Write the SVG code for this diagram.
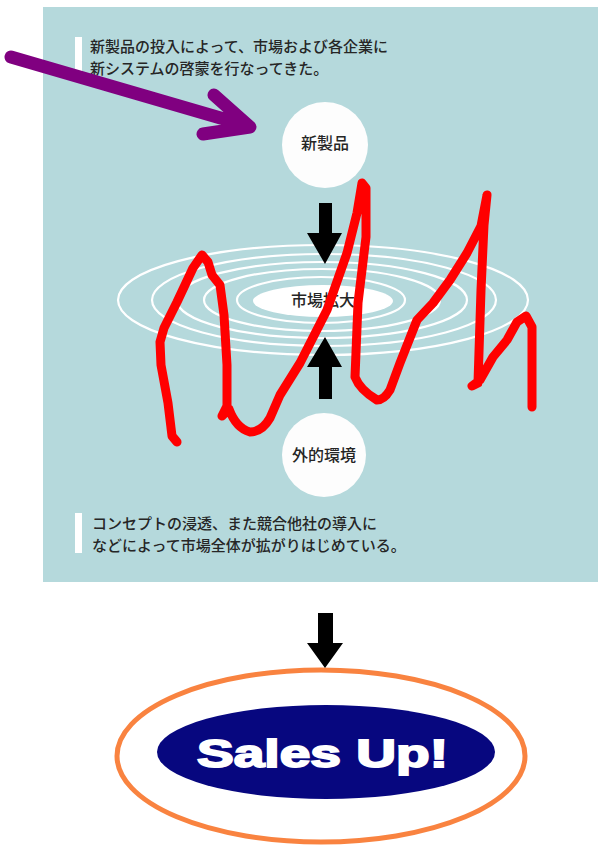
<svg xmlns="http://www.w3.org/2000/svg" width="598" height="847" viewBox="0 0 598 847">
<style>
.jp{font-family:"Noto Sans CJK JP","Noto Sans CJK SC",sans-serif;fill:#262626;font-weight:500}
.body{font-size:15px}
.node{font-size:16px;text-anchor:middle}
.ring{fill:none;stroke:#ffffff;stroke-width:2.2}
.blk{fill:#000000}
.bubble{fill:#fdfdfd}
</style>
<rect x="0" y="0" width="598" height="847" fill="#ffffff"/>
<rect id="panel" x="43" y="7" width="555" height="575" fill="#b5d9dc"/>

<g id="text-top">
<rect x="75" y="37" width="7" height="41" fill="#ffffff"/>
<text class="jp body" x="90" y="52">新製品の投入によって、市場および各企業に</text>
<text class="jp body" x="90" y="74">新システムの啓蒙を行なってきた。</text>
</g>

<g id="node-new-product">
<circle class="bubble" cx="325" cy="145" r="43"/>
<text class="jp node" x="325" y="149">新製品</text>
</g>

<g id="node-market">
<ellipse class="ring" cx="323" cy="300" rx="205" ry="55"/>
<ellipse class="ring" cx="324" cy="300" rx="172" ry="46"/>
<ellipse class="ring" cx="322" cy="300" rx="145" ry="38"/>
<ellipse class="ring" cx="322" cy="300" rx="118" ry="31"/>
<ellipse class="ring" cx="321" cy="300" rx="84" ry="23"/>
<ellipse cx="323" cy="301" rx="70" ry="16" fill="#ffffff"/>
<text class="jp node" x="323" y="306">市場拡大</text>
</g>

<g id="node-external">
<circle class="bubble" cx="324" cy="455" r="42"/>
<text class="jp node" x="324" y="461">外的環境</text>
</g>

<g id="text-bottom">
<rect x="75" y="513" width="7" height="40" fill="#ffffff"/>
<text class="jp body" x="92" y="529">コンセプトの浸透、また競合他社の導入に</text>
<text class="jp body" x="92" y="551">などによって市場全体が拡がりはじめている。</text>
</g>

<g id="node-sales">
<ellipse cx="321" cy="756" rx="204" ry="86" fill="none" stroke="#f98340" stroke-width="5"/>
<ellipse cx="326" cy="752" rx="169" ry="47" fill="#07077f"/>
<text x="197" y="767" textLength="251" lengthAdjust="spacingAndGlyphs" font-family="'Liberation Sans',Arial,sans-serif" font-weight="bold" font-size="38" fill="#ffffff" stroke="#ffffff" stroke-width="1.8">Sales Up!</text>
</g>

<g id="connectors">
<polygon class="blk" points="319,203 332,203 332,233 342,233 325,264 307,233 319,233"/>
<polygon class="blk" points="325,337 342,367 332,367 332,399 319,399 319,367 307,367"/>
<polygon class="blk" points="318,613 333,613 333,643 343,643 325,668 307,643 318,643"/>
</g>

<g id="annotations" fill="none" stroke-linecap="round" stroke-linejoin="round">
<path d="M11,57 L248,126 M214,95 L250,127 L203,134" stroke="#800080" stroke-width="13"/>
<path d="M177,442 L172,436 L168,403 L161,365 L160,342 L164,328 L177,302 L193,268 L202,255 L208,262 L212,275 L220,285 L224,315 L227,365 L227,406 L222,416 L229,409 Q236,428 250,432 Q262,432 270,418 L280,395 L300,363 L327,310 L347,253 L357,213 L362,183 L366,188 L366,237 L358,303 L355,377 Q360,390 377,400 Q384,400 390,390 L400,363 L417,320 L433,303 L450,280 L467,253 L481,226 L487,195 L484,225 L481,290 L478,383 L472,386 L480,380 L493,357 L507,340 L517,322 L526,316 L532,327 L532,407" stroke="#ff0000" stroke-width="9"/>
</g>
</svg>
